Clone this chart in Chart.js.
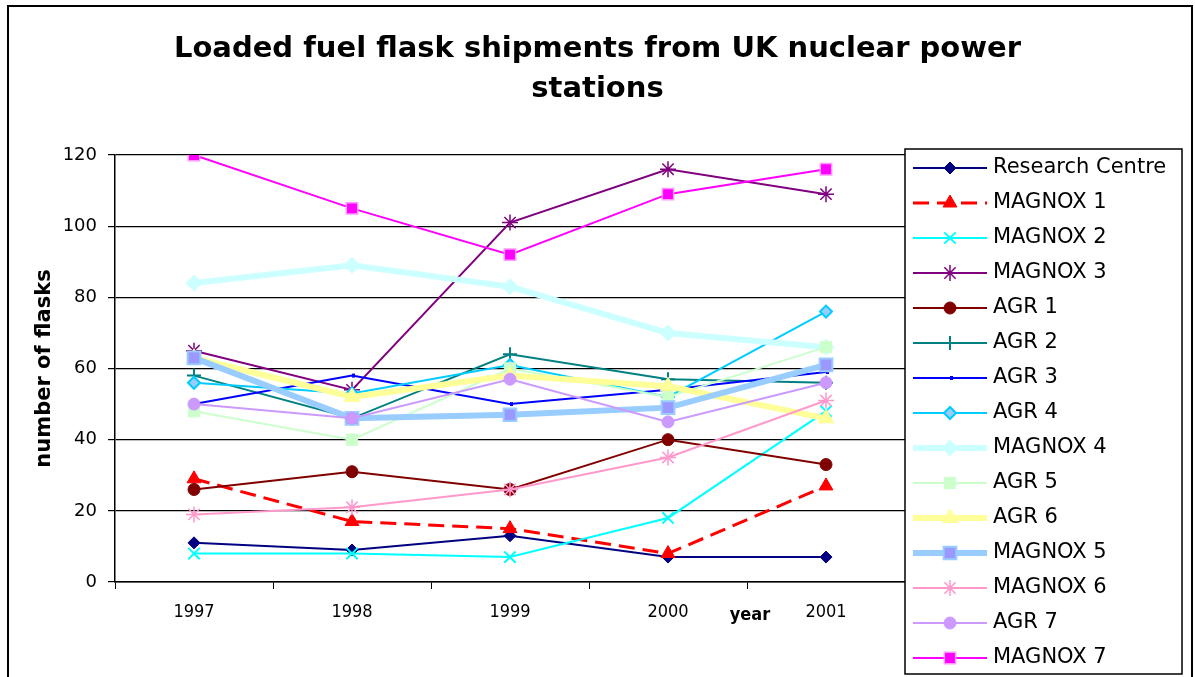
<!DOCTYPE html>
<html>
<head>
<meta charset="utf-8">
<script src="https://cdn.jsdelivr.net/npm/chart.js@4/dist/chart.umd.min.js"></script>
<style>
  html, body { margin: 0; padding: 0; background: #ffffff; }
  #flaskChart { display: block; }
</style>
</head>
<body>
<canvas id="flaskChart" width="1195" height="677"></canvas>
<script>
// years on the x axis
var years = ['1997', '1998', '1999', '2000', '2001'];

// number of flasks per station
var researchCentre = [11, 9, 13, 7, 7];
var magnox1 = [29, 17, 15, 8, 27];
var magnox2 = [8, 8, 7, 18, 48];
var magnox3 = [65, 54, 101, 116, 109];
var agr1 = [26, 31, 26, 40, 33];
var agr2 = [58, 46, 64, 57, 56];
var agr3 = [50, 58, 50, 54, 59];
var agr4 = [56, 53, 61, 52, 76];
var magnox4 = [84, 89, 83, 70, 66];
var agr5 = [48, 40, 60, 52, 66];
var agr6 = [63, 52, 58, 55, 46];
var magnox5 = [63, 46, 47, 49, 61];
var magnox6 = [19, 21, 26, 35, 51];
var agr7 = [50, 46, 57, 45, 56];
var magnox7 = [120, 105, 92, 109, 116];

var yTicks = [0, 20, 40, 60, 80, 100, 120];

// one helper so each series only lists what differs
function series(label, data, color, style, radius, extra) {
    var ds = {
        label: label,
        data: data,
        borderColor: color,
        backgroundColor: color,
        borderWidth: 2,
        pointStyle: style,
        pointRadius: radius,
        pointHoverRadius: radius,
        pointBackgroundColor: color,
        pointBorderColor: color,
        pointBorderWidth: 1,
        tension: 0
    };
    for (var k in extra) ds[k] = extra[k];
    return ds;
}

var datasets = [
    series('Research Centre', researchCentre, '#000080', 'rectRot', 6),
    series('MAGNOX 1', magnox1, '#FF0000', 'triangle', 8, {borderWidth: 3, borderDash: [16, 8]}),
    series('MAGNOX 2', magnox2, '#00FFFF', 'crossRot', 8, {pointBorderWidth: 2}),
    series('MAGNOX 3', magnox3, '#800080', 'star', 8, {pointBorderWidth: 1.5}),
    series('AGR 1', agr1, '#800000', 'circle', 6),
    series('AGR 2', agr2, '#008080', 'cross', 7, {pointBorderWidth: 2}),
    series('AGR 3', agr3, '#0000FF', 'dash', 3, {pointBorderWidth: 4}),
    series('AGR 4', agr4, '#00CCFF', 'rectRot', 6, {pointBackgroundColor: '#99CCFF', pointBorderWidth: 2}),
    series('MAGNOX 4', magnox4, '#CCFFFF', 'rectRot', 8, {borderWidth: 6}),
    series('AGR 5', agr5, '#CCFFCC', 'rect', 8),
    series('AGR 6', agr6, '#FFFF99', 'triangle', 9, {borderWidth: 6}),
    series('MAGNOX 5', magnox5, '#99CCFF', 'rect', 9, {borderWidth: 6, pointBackgroundColor: '#9999FF', pointBorderWidth: 2}),
    series('MAGNOX 6', magnox6, '#FF99CC', 'star', 8, {pointBorderWidth: 1.5}),
    series('AGR 7', agr7, '#CC99FF', 'circle', 6),
    series('MAGNOX 7', magnox7, '#FF00FF', 'rect', 8, {pointBorderColor: '#FF99FF', pointBorderWidth: 1.5})
];
// later series sit on top, like the original
datasets.forEach(function(ds, i) { ds.order = datasets.length - i; });

// title is centred on the whole chart, not just the plot area
var titleSpanPlugin = {
    id: 'titleSpan',
    afterLayout: function(chart) {
        var t = chart.titleBlock;
        if (!t) return;
        t.left = 0;
        t.right = chart.width;
        t.width = chart.width;
    }
};

// frame round the whole chart
var framePlugin = {
    id: 'frame',
    afterDraw: function(chart) {
        var ctx = chart.ctx;
        ctx.save();
        ctx.strokeStyle = '#000000';
        ctx.lineWidth = 2;
        ctx.strokeRect(8, 6, 1184, 680);
        ctx.restore();
    }
};

// "year" sits on the tick label row, between 2000 and 2001
var yearLabelPlugin = {
    id: 'yearLabel',
    afterDraw: function(chart) {
        var ctx = chart.ctx;
        var xs = chart.scales.x;
        var x = (xs.getPixelForValue(3) + xs.getPixelForValue(4)) / 2;
        ctx.save();
        ctx.fillStyle = '#000000';
        ctx.font = 'bold 18px "DejaVu Sans Condensed", "DejaVu Sans"';
        ctx.textAlign = 'center';
        ctx.textBaseline = 'middle';
        ctx.fillText('year', x + 3, xs.top + 33);
        ctx.restore();
    }
};

// Excel style legend: line sample with marker, in a bordered box
var boxLegendPlugin = {
    id: 'boxLegend',
    afterDraw: function(chart) {
        var ctx = chart.ctx;
        var left = chart.chartArea.right, top = 149, right = 1182, bottom = 674;
        ctx.save();
        ctx.fillStyle = '#ffffff';
        ctx.fillRect(left, top, right - left, bottom - top);
        ctx.strokeStyle = '#000000';
        ctx.lineWidth = 1.5;
        ctx.strokeRect(left, top, right - left, bottom - top);

        var rowH = (bottom - top) / chart.data.datasets.length;
        chart.data.datasets.forEach(function(ds, i) {
            var cy = top + rowH * (i + 0.5) + 1.5;
            ctx.save();
            ctx.strokeStyle = ds.borderColor;
            ctx.lineWidth = ds.borderWidth;
            ctx.setLineDash(ds.borderDash || []);
            ctx.beginPath();
            ctx.moveTo(left + 8, cy);
            ctx.lineTo(left + 82, cy);
            ctx.stroke();
            ctx.setLineDash([]);
            ctx.fillStyle = ds.pointBackgroundColor;
            ctx.strokeStyle = ds.pointBorderColor;
            ctx.lineWidth = ds.pointBorderWidth;
            Chart.helpers.drawPoint(ctx, {
                pointStyle: ds.pointStyle,
                radius: ds.pointRadius,
                borderWidth: ds.pointBorderWidth,
                rotation: 0
            }, left + 45, cy);
            ctx.restore();

            ctx.fillStyle = '#000000';
            ctx.font = '21px "DejaVu Sans"';
            ctx.textAlign = 'left';
            ctx.textBaseline = 'middle';
            ctx.fillText(ds.label, left + 88, cy);
        });
        ctx.restore();
    }
};

var flaskContext = document.getElementById('flaskChart').getContext('2d');
var flaskChart = new Chart(flaskContext, {
    type: 'line',
    data: {
        labels: years,
        datasets: datasets
    },
    options: {
        responsive: false,
        animation: false,
        layout: {
            padding: {left: 0, right: 290, top: 0, bottom: 0}
        },
        plugins: {
            legend: {display: false},
            tooltip: {enabled: false},
            title: {
                display: true,
                text: ['Loaded fuel flask shipments from UK nuclear power', 'stations'],
                color: '#000000',
                font: {family: 'DejaVu Sans', size: 29, weight: 'bold', lineHeight: 40 / 29},
                padding: {top: 29, bottom: 46}
            }
        },
        scales: {
            x: {
                offset: true,
                grid: {
                    offset: true,
                    drawOnChartArea: false,
                    drawTicks: true,
                    tickLength: 7,
                    color: '#000000'
                },
                border: {display: true, color: '#000000', width: 1.5},
                ticks: {
                    color: '#000000',
                    padding: 13,
                    maxRotation: 0,
                    font: {family: '"DejaVu Sans Condensed", "DejaVu Sans"', size: 18}
                },
                afterFit: function(scale) { scale.height = 95; }
            },
            y: {
                min: 0,
                max: 120,
                afterBuildTicks: function(scale) {
                    scale.ticks = yTicks.map(function(v) { return {value: v}; });
                },
                grid: {
                    color: '#000000',
                    lineWidth: 1.2,
                    drawTicks: true,
                    tickLength: 7
                },
                border: {display: true, color: '#000000', width: 1.5},
                ticks: {
                    color: '#000000',
                    padding: 11,
                    font: {family: 'DejaVu Sans', size: 18}
                },
                title: {
                    display: true,
                    text: 'number of flasks',
                    color: '#000000',
                    font: {family: 'DejaVu Sans', size: 21, weight: 'bold'},
                    padding: {top: 32, bottom: 0}
                },
                afterFit: function(scale) { scale.width = 115; }
            }
        }
    },
    plugins: [titleSpanPlugin, boxLegendPlugin, yearLabelPlugin, framePlugin]
});
</script>
</body>
</html>
